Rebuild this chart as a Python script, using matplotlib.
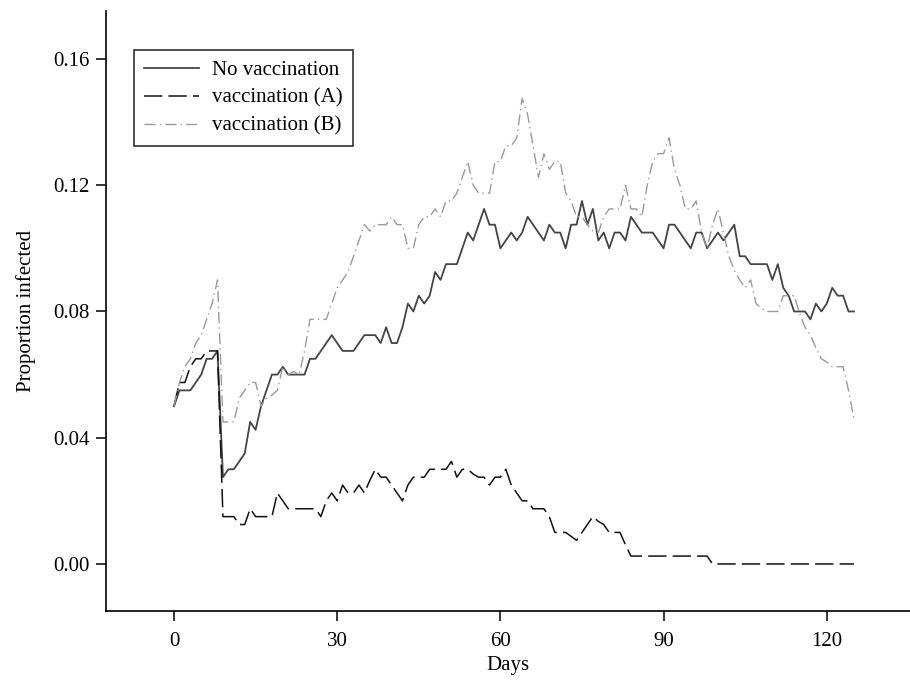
import matplotlib
matplotlib.use("Agg")
import matplotlib.pyplot as plt
import numpy as np

days = list(range(0, 126))

no_vacc = [
    0.050, 0.055, 0.055, 0.055, 0.0575, 0.060, 0.065, 0.065, 0.0675, 0.0275,
    0.030, 0.030, 0.0325, 0.035, 0.045, 0.0425, 0.050, 0.055, 0.060, 0.060,
    0.0625, 0.060, 0.060, 0.060, 0.060, 0.065, 0.065, 0.0675, 0.070, 0.0725,
    0.070, 0.0675, 0.0675, 0.0675, 0.070, 0.0725, 0.0725, 0.0725, 0.070, 0.075,
    0.070, 0.070, 0.075, 0.0825, 0.080, 0.085, 0.0825, 0.085, 0.0925, 0.090,
    0.095, 0.095, 0.095, 0.100, 0.105, 0.1025, 0.1075, 0.1125, 0.1075, 0.1075,
    0.100, 0.1025, 0.105, 0.1025, 0.105, 0.110, 0.1075, 0.105, 0.1025, 0.1075,
    0.105, 0.105, 0.100, 0.1075, 0.1075, 0.115, 0.1075, 0.1125, 0.1025, 0.105,
    0.100, 0.105, 0.105, 0.1025, 0.110, 0.1075, 0.105, 0.105, 0.105, 0.1025,
    0.100, 0.1075, 0.1075, 0.105, 0.1025, 0.100, 0.105, 0.105, 0.100, 0.1025,
    0.105, 0.1025, 0.105, 0.1075, 0.0975, 0.0975, 0.095, 0.095, 0.095, 0.095,
    0.090, 0.095, 0.0875, 0.085, 0.080, 0.080, 0.080, 0.0775, 0.0825, 0.080,
    0.0825, 0.0875, 0.085, 0.085, 0.080, 0.080,
]

vacc_a = [
    0.050, 0.0575, 0.0575, 0.0625, 0.065, 0.065, 0.0675, 0.0675, 0.0675, 0.015,
    0.015, 0.015, 0.0125, 0.0125, 0.0175, 0.015, 0.015, 0.015, 0.015, 0.0225,
    0.020, 0.0175, 0.0175, 0.0175, 0.0175, 0.0175, 0.0175, 0.015, 0.020, 0.0225,
    0.020, 0.025, 0.0225, 0.0225, 0.025, 0.0225, 0.0265, 0.030, 0.0275, 0.0275,
    0.025, 0.0225, 0.020, 0.025, 0.0275, 0.0275, 0.0275, 0.030, 0.030, 0.030,
    0.030, 0.0325, 0.0275, 0.030, 0.030, 0.0285, 0.0275, 0.0275, 0.025, 0.0275,
    0.0275, 0.030, 0.025, 0.0225, 0.020, 0.020, 0.0175, 0.0175, 0.0175, 0.015,
    0.010, 0.010, 0.010, 0.00875, 0.0075, 0.010, 0.0125, 0.015, 0.0135, 0.0125,
    0.010, 0.010, 0.010, 0.006, 0.0025, 0.0025, 0.0025, 0.0025, 0.0025, 0.0025,
    0.0025, 0.0025, 0.0025, 0.0025, 0.0025, 0.0025, 0.0025, 0.0025, 0.0025, 0.0,
    0.0, 0.0, 0.0, 0.0, 0.0, 0.0, 0.0, 0.0, 0.0, 0.0,
    0.0, 0.0, 0.0, 0.0, 0.0, 0.0, 0.0, 0.0, 0.0, 0.0,
    0.0, 0.0, 0.0, 0.0, 0.0, 0.0,
]

vacc_b = [
    0.050, 0.0575, 0.0625, 0.065, 0.070, 0.0725, 0.0775, 0.0825, 0.090, 0.045,
    0.045, 0.045, 0.0525, 0.055, 0.0575, 0.0575, 0.050, 0.0525, 0.0535, 0.055,
    0.0625, 0.060, 0.061, 0.060, 0.0675, 0.0775, 0.0775, 0.0775, 0.0775, 0.0825,
    0.0875, 0.090, 0.0925, 0.0975, 0.1025, 0.1075, 0.1055, 0.1075, 0.1075, 0.1075,
    0.110, 0.1075, 0.1075, 0.100, 0.100, 0.1075, 0.110, 0.110, 0.1125, 0.110,
    0.115, 0.115, 0.1175, 0.1225, 0.1275, 0.120, 0.1175, 0.1175, 0.1175, 0.1275,
    0.1275, 0.1325, 0.1325, 0.135, 0.1475, 0.1425, 0.1325, 0.1225, 0.130, 0.125,
    0.1275, 0.1275, 0.1175, 0.115, 0.110, 0.110, 0.1075, 0.1055, 0.105, 0.110,
    0.1125, 0.1125, 0.1125, 0.120, 0.1125, 0.1125, 0.110, 0.120, 0.1275, 0.130,
    0.130, 0.135, 0.125, 0.120, 0.1125, 0.1125, 0.115, 0.105, 0.100, 0.1075,
    0.1125, 0.105, 0.0975, 0.093, 0.090, 0.0875, 0.090, 0.0825, 0.081, 0.080,
    0.080, 0.080, 0.085, 0.085, 0.085, 0.0795, 0.075, 0.0725, 0.0685, 0.065,
    0.064, 0.0625, 0.0625, 0.0625, 0.055, 0.046,
]

series_labels = ["No vaccination", "vaccination (A)", "vaccination (B)"]
x_ticks = [0, 30, 60, 90, 120]
y_ticks = [0.00, 0.04, 0.08, 0.12, 0.16]

plt.rcParams["font.family"] = ["Liberation Serif", "DejaVu Serif"]

fig = plt.figure(figsize=(9.1, 6.8), dpi=100)
ax = fig.add_axes([106 / 910, 69 / 680, 804 / 910, 600 / 680])

ax.plot(days, no_vacc, color="#444444", lw=1.3, linestyle="-", label=series_labels[0])
ax.plot(days, vacc_a, color="#111111", lw=1.1, linestyle=(0, (12, 4)), label=series_labels[1])
ax.plot(days, vacc_b, color="#9a9a9a", lw=1.0, linestyle=(0, (8, 3, 1, 3)), label=series_labels[2])

ax.set_xlim(-12.5, 135.3)
ax.set_ylim(-0.0149, 0.1752)
ax.set_xticks(x_ticks)
ax.set_xticklabels([str(t) for t in x_ticks])
ax.set_yticks(y_ticks)
ax.set_yticklabels([f"{t:.2f}" for t in y_ticks])

for s in ["top", "right"]:
    ax.spines[s].set_visible(False)
for s in ["left", "bottom"]:
    ax.spines[s].set_linewidth(1.2)

ax.tick_params(axis="both", direction="out", length=7, width=1.1, labelsize=15)
ax.tick_params(axis="y", pad=5)
ax.tick_params(axis="x", pad=8)

ax.set_xlabel("Days", fontsize=15, labelpad=4)
ax.set_ylabel("Proportion infected", fontsize=15, labelpad=12)

leg = ax.legend(loc="upper left", bbox_to_anchor=(28 / 804, (611 - 50) / 600),
                borderaxespad=0, frameon=True, fancybox=False, fontsize=15,
                handlelength=2.6, handletextpad=0.65, labelspacing=0.4,
                borderpad=0.5)
leg.get_frame().set_edgecolor("black")
leg.get_frame().set_linewidth(1.2)

fig.savefig("out.png", dpi=100)
